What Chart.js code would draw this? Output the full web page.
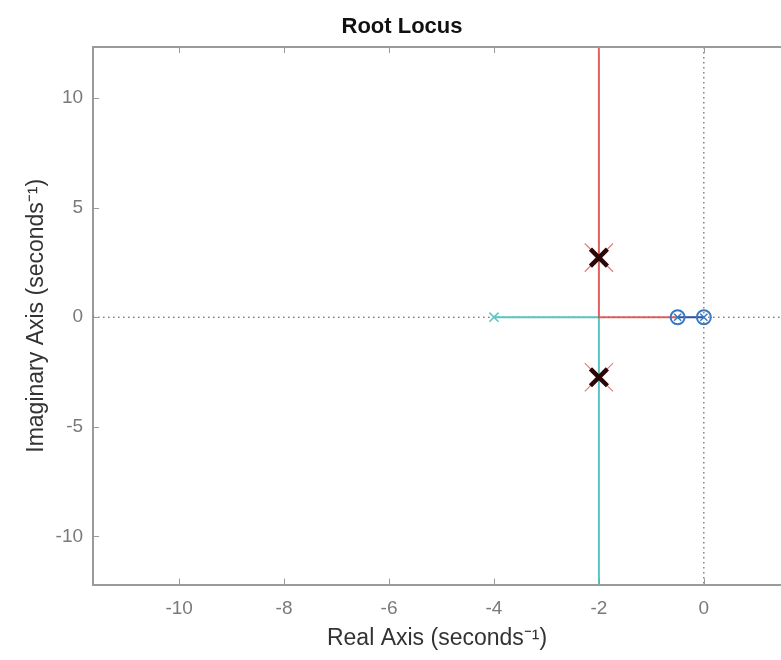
<!DOCTYPE html>
<html>
<head>
<meta charset="utf-8">
<script src="https://cdn.jsdelivr.net/npm/chart.js@4"></script>
<style>
  body { margin: 0; background: #fff; }
  canvas { display: block; }
</style>
</head>
<body>
<canvas id="rl" width="781" height="660"></canvas>
<script>
// axis ranges and tick labels
const xRange = [-11.64, 1.47];
const yRange = [-12.2, 12.33];
const xTicks = [-10, -8, -6, -4, -2, 0];
const yTicks = [10, 5, 0, -5, -10];

// locus branches
const redBranch = [[-0.5, 0], [-2, 0], [-2, 12.33]];
const cyanBranch = [[-4, 0], [-2, 0], [-2, -12.2]];
const blueBranch = [[-0.5, 0], [0, 0]];

// markers
const poles = [[-2, 2.72], [-2, -2.74]];
const cyanPoles = [[-4, 0]];
const zeros = [[-0.5, 0], [0, 0]];

const RED = 'rgba(220,80,80,0.9)';
const CYAN = '#5bc4c4';
const BLUE = '#3a78c0';
const AXIS = '#9a9a9a';
const FONT = 'Liberation Sans';

function pts(arr) { return arr.map(p => ({ x: p[0], y: p[1] })); }

function line(data, color) {
  return { data: pts(data), showLine: true, borderColor: color, borderWidth: 2, pointRadius: 0, fill: false };
}
function marks(data, style, r, color, w, order) {
  return { data: pts(data), showLine: false, pointStyle: style, pointRadius: r, pointHoverRadius: r,
    borderColor: color, backgroundColor: 'rgba(0,0,0,0)', pointBorderWidth: w, order };
}

const frame = {
  id: 'frame',
  beforeDatasetsDraw(chart) {
    const { ctx, chartArea: a, scales: { x, y } } = chart;
    ctx.save();
    ctx.strokeStyle = '#444';
    ctx.lineWidth = 1;
    ctx.setLineDash([1.5, 3.5]);
    const y0 = y.getPixelForValue(0), x0 = x.getPixelForValue(0);
    ctx.beginPath();
    ctx.moveTo(a.left, y0); ctx.lineTo(a.right, y0);
    ctx.moveTo(x0, a.top); ctx.lineTo(x0, a.bottom);
    ctx.stroke();
    ctx.restore();
  },
  afterDraw(chart) {
    const { ctx, chartArea: a, scales: { x, y } } = chart;
    ctx.save();
    ctx.strokeStyle = AXIS;
    ctx.lineWidth = 2;
    ctx.beginPath();
    ctx.moveTo(a.left - 1, a.top); ctx.lineTo(a.right, a.top);
    ctx.stroke();
    ctx.beginPath();
    xTicks.forEach(v => {
      const px = Math.round(x.getPixelForValue(v)) + 0.5;
      ctx.moveTo(px, a.bottom); ctx.lineTo(px, a.bottom - 6);
      ctx.moveTo(px, a.top); ctx.lineTo(px, a.top + 6);
    });
    yTicks.forEach(v => {
      const py = Math.round(y.getPixelForValue(v)) + 0.5;
      ctx.moveTo(a.left, py); ctx.lineTo(a.left + 6, py);
    });
    ctx.lineWidth = 1;
    ctx.stroke();
    ctx.restore();
  }
};

new Chart(document.getElementById('rl'), {
  type: 'scatter',
  data: {
    datasets: [
      marks(poles, 'crossRot', 12, '#2a0808', 4.5, 1),
      marks(poles, 'crossRot', 20, 'rgba(220,80,80,0.75)', 1.2, 2),
      marks(cyanPoles, 'crossRot', 6.5, CYAN, 1.5, 2),
      marks(zeros, 'circle', 7, BLUE, 2, 2),
      marks(zeros, 'crossRot', 5, BLUE, 1.5, 2),
      Object.assign(line(blueBranch, '#2d4f9e'), { order: 3 }),
      Object.assign(line(redBranch, RED), { order: 4 }),
      Object.assign(line(cyanBranch, CYAN), { order: 4 }),
    ]
  },
  options: {
    responsive: false,
    animation: false,
    layout: { autoPadding: false, padding: { left: 23, right: 0, top: 8, bottom: 8 } },
    plugins: {
      legend: { display: false },
      tooltip: { enabled: false },
      title: {
        display: true, text: 'Root Locus', color: '#111',
        font: { family: FONT, size: 22, weight: 'bold' },
        padding: { top: 6, bottom: 6.6 }
      }
    },
    scales: {
      x: {
        type: 'linear', min: xRange[0], max: xRange[1],
        afterBuildTicks: s => { s.ticks = xTicks.map(v => ({ value: v })); },
        afterFit: s => { s.paddingRight = 0; },
        grid: { display: false, drawTicks: false },
        border: { display: true, color: AXIS, width: 2 },
        ticks: { color: '#7a7a7a', padding: 13, font: { family: FONT, size: 19 } },
        title: { display: true, text: 'Real Axis (seconds⁻¹)', color: '#333',
          font: { family: FONT, size: 23 }, padding: { top: -9, bottom: 0 } }
      },
      y: {
        type: 'linear', min: yRange[0], max: yRange[1],
        afterBuildTicks: s => { s.ticks = yTicks.map(v => ({ value: v })); },
        grid: { display: false, drawTicks: false },
        border: { display: true, color: AXIS, width: 2 },
        ticks: { color: '#7a7a7a', padding: 10, font: { family: FONT, size: 19 } },
        title: { display: true, text: 'Imaginary Axis (seconds⁻¹)', color: '#333',
          font: { family: FONT, size: 23 }, padding: { top: 0, bottom: -5 } }
      }
    }
  },
  plugins: [frame]
});
</script>
</body>
</html>
